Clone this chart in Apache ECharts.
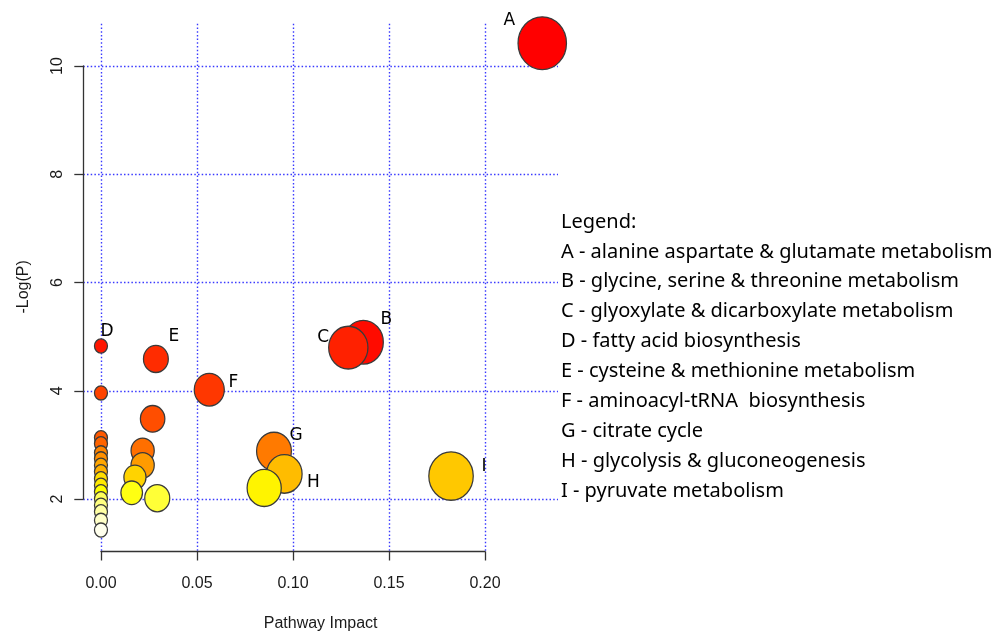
<!DOCTYPE html>
<html><head><meta charset="utf-8">
<script src="https://cdn.jsdelivr.net/npm/echarts@6/dist/echarts.min.js"></script>
<style>html,body{margin:0;padding:0;background:#fff}#c{width:1000px;height:637px}</style>
</head><body><div id="c"></div>
<script>
// ---- data (sorted by -log(p), descending = drawing order) ----
const pathwayLabels = ["A","B","D","C","E","F","","","","","","G","","","","","","H","I","","","","","","","","","","","",""];
const impact  = [0.2298,0.1366,0.0,0.1288,0.0286,0.0564,0.0,0.0269,0.0,0.0,0.0217,0.0901,0.0,0.0,0.0217,0.0,0.0,0.0955,0.1823,0.0177,0.0,0.0,0.085,0.0,0.016,0.0293,0.0,0.0,0.0,0.0,0.0];
const negLogP = [10.42,4.88,4.81,4.78,4.57,4.00,3.94,3.46,3.11,3.00,2.87,2.86,2.83,2.72,2.60,2.60,2.48,2.44,2.40,2.38,2.35,2.23,2.18,2.11,2.09,1.99,1.98,1.86,1.74,1.58,1.40];
const xTicks = [0, 0.05, 0.10, 0.15, 0.20];
const yTicks = [2, 4, 6, 8, 10];
const xTitle = "Pathway Impact";
const yTitle = "-Log(P)";
const legendTitle = "Legend:";
const legendLines = [
  "A - alanine aspartate & glutamate metabolism",
  "B - glycine, serine & threonine metabolism",
  "C - glyoxylate & dicarboxylate metabolism",
  "D - fatty acid biosynthesis",
  "E - cysteine & methionine metabolism",
  "F - aminoacyl-tRNA  biosynthesis",
  "G - citrate cycle",
  "H - glycolysis & gluconeogenesis",
  "I - pyruvate metabolism"
];

// ---- styles ----
const labelOffsets = {A:[-33,-23],B:[23,-23],C:[-25,-10],D:[6,-14],E:[18,-22],F:[24,-7],G:[22,-16],H:[29,9],I:[33,-9]};

function hsv2hex(h, s, v) {
  const i = Math.floor(h * 6), f = h * 6 - i;
  const p = v * (1 - s), q = v * (1 - f * s), t = v * (1 - (1 - f) * s);
  let r, g, b;
  switch (i % 6) {
    case 0: r=v; g=t; b=p; break; case 1: r=q; g=v; b=p; break;
    case 2: r=p; g=v; b=t; break; case 3: r=p; g=q; b=v; break;
    case 4: r=t; g=p; b=v; break; default: r=v; g=p; b=q;
  }
  const hx = x => Math.round(x * 255).toString(16).padStart(2, '0');
  return '#' + hx(r) + hx(g) + hx(b);
}
// R's heat.colors(n)
function heatColors(n) {
  const j = Math.floor(n / 4), i = n - j, out = [];
  for (let k = 0; k < i; k++) out.push(hsv2hex(i > 1 ? (k / (i - 1)) / 6 : 0, 1, 1));
  for (let k = 0; k < j; k++) {
    const s0 = 1 - 1 / (2 * j), s1 = 1 / (2 * j);
    out.push(hsv2hex(1 / 6, j > 1 ? s0 + (s1 - s0) * k / (j - 1) : s0, 1));
  }
  return out;
}
const cols = heatColors(negLogP.length);

const points = negLogP.map((y, k) => {
  const nm = pathwayLabels[k];
  return {
    value: [impact[k], y],
    name: nm,
    itemStyle: { color: cols[k] },
    label: nm ? { show: true, offset: labelOffsets[nm] } : { show: false }
  };
});

const dotted = { color: '#3a3aff', width: 1.4, type: [1.5, 2.2] };
const axisTxt = { fontFamily: 'Liberation Sans, Arial, sans-serif', fontSize: 16, color: '#1a1a1a' };

const chart = echarts.init(document.getElementById('c'), null, { renderer: 'canvas' });
chart.setOption({
  animation: false,
  backgroundColor: '#ffffff',
  title: {
    left: 561, top: 207, padding: 0,
    text: [legendTitle].concat(legendLines).join('\n'),
    textStyle: { fontFamily: 'Noto Sans, sans-serif', fontSize: 20, fontWeight: 'normal', color: '#000', lineHeight: 29.9 }
  },
  grid: [
    { left: 83.3, right: 442, top: 23.8, bottom: 85.5 },   // plot region
    { left: 101, right: 515, top: 23.8, bottom: 85.5 },    // x axis span 0..0.2
    { left: 83.3, right: 442, top: 66, bottom: 138 }       // y axis span 2..10
  ],
  xAxis: [
    { gridIndex: 0, type: 'value', min: -0.0092, max: 0.238,
      name: xTitle, nameLocation: 'middle', nameGap: 66, nameTextStyle: axisTxt,
      axisLine: { show: false }, axisTick: { show: false }, axisLabel: { show: false }, splitLine: { show: false } },
    { gridIndex: 1, type: 'value', min: xTicks[0], max: xTicks[xTicks.length - 1], interval: xTicks[1] - xTicks[0],
      axisLine: { show: true, onZero: false, lineStyle: { color: '#333', width: 1.3 } },
      axisTick: { show: true, length: 9, lineStyle: { color: '#333', width: 1.3 } },
      axisLabel: { margin: 24, ...axisTxt, formatter: v => v.toFixed(2) },
      splitLine: { show: true, lineStyle: dotted } },
    { gridIndex: 2, type: 'value', show: false, min: 0, max: 1 }
  ],
  yAxis: [
    { gridIndex: 0, type: 'value', min: 1.03, max: 10.78,
      name: yTitle, nameLocation: 'middle', nameGap: 52, nameRotate: 90, nameTextStyle: axisTxt,
      axisLine: { show: false }, axisTick: { show: false }, axisLabel: { show: false }, splitLine: { show: false } },
    { gridIndex: 1, type: 'value', show: false, min: 0, max: 1 },
    { gridIndex: 2, type: 'value', min: yTicks[0], max: yTicks[yTicks.length - 1], interval: yTicks[1] - yTicks[0],
      axisLine: { show: true, onZero: false, lineStyle: { color: '#333', width: 1.3 } },
      axisTick: { show: true, length: 9, lineStyle: { color: '#333', width: 1.3 } },
      axisLabel: { margin: 18, rotate: 90, ...axisTxt },
      splitLine: { show: true, lineStyle: dotted } }
  ],
  series: [{
    type: 'scatter',
    xAxisIndex: 0, yAxisIndex: 0,
    clip: false,
    symbol: 'circle',
    symbolSize: v => { const d = Math.max(13, 12 + 76 * Math.sqrt(v[0])); return [d, d * 1.09]; },
    itemStyle: { borderColor: '#3a3a3a', borderWidth: 1.3, opacity: 1 },
    label: { position: 'inside', formatter: '{b}', fontFamily: 'DejaVu Sans, sans-serif', fontSize: 17, color: '#000' },
    emphasis: { disabled: true },
    data: points
  }]
});
</script>
</body></html>
